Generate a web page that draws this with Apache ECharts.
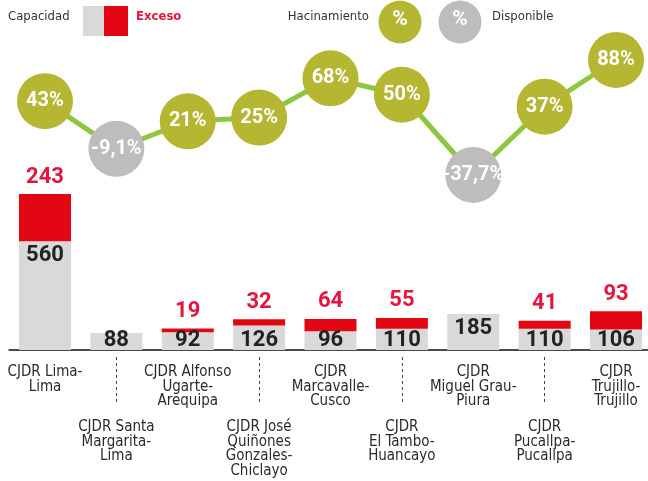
<!DOCTYPE html>
<html>
<head>
<meta charset="utf-8">
<script src="https://cdn.jsdelivr.net/npm/echarts@6.0.0/dist/echarts.min.js"></script>
<style>
html,body{margin:0;padding:0;background:#fff;}
#chart{width:648px;height:481px;}
</style>
</head>
<body>
<div id="chart"></div>
<script>
const categories = [
  "CJDR Lima-\nLima",
  "CJDR Santa\nMargarita-\nLima",
  "CJDR Alfonso\nUgarte-\nArequipa",
  "CJDR José\nQuiñones\nGonzales-\nChiclayo",
  "CJDR\nMarcavalle-\nCusco",
  "CJDR\nEl Tambo-\nHuancayo",
  "CJDR\nMiguel Grau-\nPiura",
  "CJDR\nPucallpa-\nPucallpa",
  "CJDR\nTrujillo-\nTrujillo"
];
const capacidad = [560, 88, 92, 126, 96, 110, 185, 110, 106];
const exceso = [243, null, 19, 32, 64, 55, null, 41, 93];
const hacinamiento = [43, -9.1, 21, 25, 68, 50, -37.7, 37, 88];

const GRAY = '#d9d9d9', RED = '#e30613', REDTXT = '#e3173e';
const OLIVE = '#b5b732', CGRAY = '#bdbdbd', LINE = '#8dc63f';
const NARROW = "'DejaVu Sans Condensed','Liberation Sans Narrow',sans-serif";
const NUM = "Roboto, 'DejaVu Sans', sans-serif";

const chart = echarts.init(document.getElementById('chart'), null, {renderer: 'canvas'});

const labelStyle = {
  color: '#2a2a2a', fontFamily: NARROW, fontSize: 15, lineHeight: 14.6, align: 'center'
};

const option = {
  animation: false,
  backgroundColor: '#fff',
  grid: {left: 9.3, right: -3.7, top: 20, bottom: 131, containLabel: false, outerBoundsMode: 'none'},
  xAxis: [
    {
      type: 'category', data: categories, position: 'bottom',
      axisLine: {show: true, onZero: false, lineStyle: {color: '#4a4a4a', width: 2}},
      axisTick: {show: false},
      axisLabel: Object.assign({
        show: true, margin: 15,
        interval: (i) => i % 2 === 0
      }, labelStyle)
    },
    {
      type: 'category', data: categories, position: 'bottom', offset: 7,
      axisLine: {show: false, onZero: false},
      axisTick: {
        show: true, alignWithLabel: true, length: 45,
        interval: (i) => i % 2 === 1,
        lineStyle: {color: '#444', width: 1, type: [3, 3]}
      },
      axisLabel: Object.assign({
        show: true, margin: 63,
        interval: (i) => i % 2 === 1
      }, labelStyle)
    }
  ],
  yAxis: [
    {type: 'value', min: 0, max: 1700, show: false},
    {type: 'value', min: -229, max: 131.7, show: false}
  ],
  graphic: [
    {type: 'text', x: 8, y: 17, style: {text: 'Capacidad', fill: '#333', font: '13px ' + NARROW, verticalAlign: 'middle'}},
    {type: 'rect', shape: {x: 83, y: 6, width: 21, height: 30}, style: {fill: GRAY}},
    {type: 'rect', shape: {x: 104, y: 6, width: 24, height: 30}, style: {fill: RED}},
    {type: 'text', x: 136, y: 17, style: {text: 'Exceso', fill: REDTXT, font: 'bold 13px ' + NARROW, verticalAlign: 'middle'}},
    {type: 'text', x: 369, y: 17, style: {text: 'Hacinamiento', fill: '#333', font: '13px ' + NARROW, align: 'right', verticalAlign: 'middle'}},
    {type: 'circle', shape: {cx: 400, cy: 22, r: 21.5}, style: {fill: OLIVE}},
    {type: 'text', x: 400, y: 20, style: {text: '%', fill: '#fff', font: 'bold 21px ' + NUM, align: 'center', verticalAlign: 'middle'}},
    {type: 'circle', shape: {cx: 460, cy: 22, r: 21.5}, style: {fill: CGRAY}},
    {type: 'text', x: 460, y: 20, style: {text: '%', fill: '#fff', font: 'bold 21px ' + NUM, align: 'center', verticalAlign: 'middle'}},
    {type: 'text', x: 492, y: 17, style: {text: 'Disponible', fill: '#333', font: '13px ' + NARROW, verticalAlign: 'middle'}}
  ],
  series: [
    {
      name: 'Capacidad', type: 'bar', stack: 'total', barWidth: 52,
      itemStyle: {color: GRAY},
      data: capacidad.map(v => ({
        value: v,
        label: {position: v > 150 ? 'insideTop' : 'insideBottom', distance: v > 150 ? 3 : -1}
      })),
      label: {show: true, color: '#222', fontFamily: NUM, fontWeight: 'bold', fontSize: 22}
    },
    {
      name: 'Exceso', type: 'bar', stack: 'total', barWidth: 52,
      itemStyle: {color: RED},
      data: exceso,
      label: {show: true, position: 'top', distance: 6, color: REDTXT, fontFamily: NUM, fontWeight: 'bold', fontSize: 22}
    },
    {
      name: 'Hacinamiento', type: 'line', yAxisIndex: 1, z: 5,
      symbol: 'circle', symbolSize: 56, showSymbol: true, showAllSymbol: true,
      lineStyle: {color: LINE, width: 5},
      itemStyle: {color: (p) => p.value < 0 ? CGRAY : OLIVE, opacity: 1},
      data: hacinamiento,
      label: {
        show: true, position: 'inside', color: '#fff', fontFamily: NUM, fontWeight: 'bold', fontSize: 20,
        formatter: (p) => String(p.value).replace('.', ',') + '%'
      },
      labelLayout: {hideOverlap: false}
    }
  ]
};
chart.setOption(option);
</script>
</body>
</html>
